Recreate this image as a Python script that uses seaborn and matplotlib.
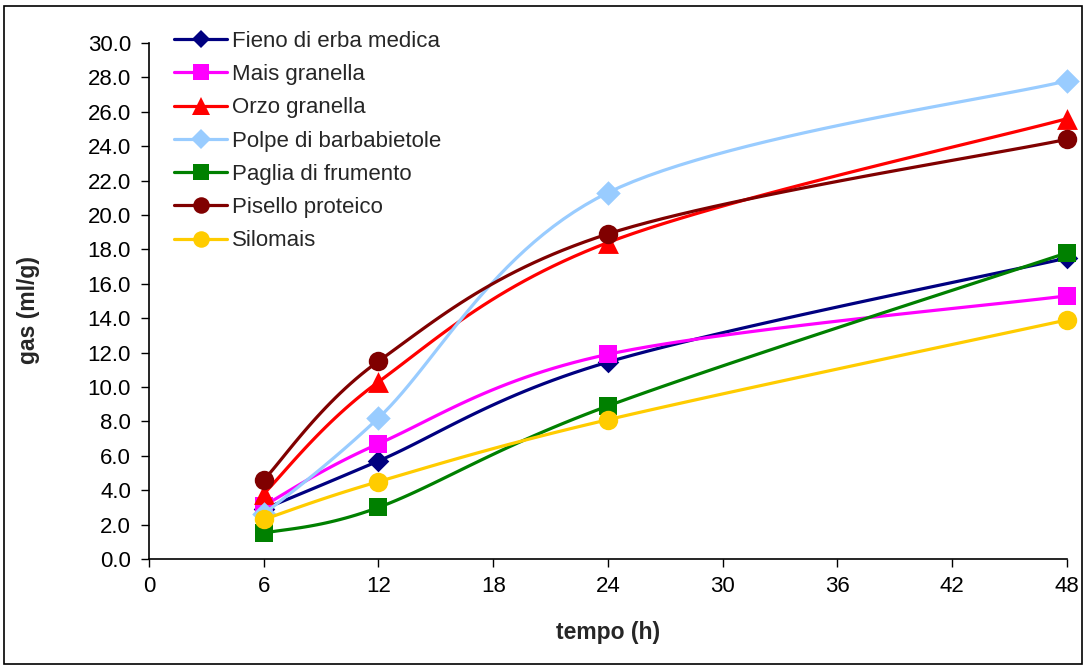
import numpy as np
import pandas as pd
import matplotlib
matplotlib.use("Agg")
import matplotlib.pyplot as plt
from matplotlib.lines import Line2D
from matplotlib.patches import Rectangle
import seaborn as sns

# ---- data ----
tempo = [6, 12, 24, 48]
series_names = ["Fieno di erba medica", "Mais granella", "Orzo granella",
                "Polpe di barbabietole", "Paglia di frumento",
                "Pisello proteico", "Silomais"]
fieno = [2.9, 5.7, 11.45, 17.5]
mais = [3.1, 6.7, 11.9, 15.3]
orzo = [3.8, 10.3, 18.4, 25.6]
polpe = [2.6, 8.2, 21.3, 27.8]
paglia = [1.5, 3.0, 8.9, 17.8]
pisello = [4.6, 11.5, 18.9, 24.4]
silomais = [2.3, 4.5, 8.1, 13.9]
values = [fieno, mais, orzo, polpe, paglia, pisello, silomais]

x_ticks = [0, 6, 12, 18, 24, 30, 36, 42, 48]
y_ticks = [0, 2, 4, 6, 8, 10, 12, 14, 16, 18, 20, 22, 24, 26, 28, 30]

colors = ["#000080", "#FF00FF", "#FF0000", "#99CCFF", "#008000", "#800000", "#FFCC00"]
markers = ["D", "s", "^", "D", "s", "o", "o"]
msizes = [11, 13, 15, 12.5, 13, 14, 14]

df = pd.DataFrame({
    "tempo": np.tile(tempo, len(series_names)),
    "gas": np.concatenate(values),
    "serie": np.repeat(series_names, len(tempo)),
})


def smooth_path(xs, ys, n=30):
    """Excel-style Bezier smoothing of a polyline (rendering only)."""
    P = np.column_stack([xs, ys]).astype(float)
    m = len(P)
    out = [P[0]]
    for i in range(m - 1):
        p0 = P[i - 1] if i > 0 else P[i]
        p1 = P[i]
        p2 = P[i + 1]
        p3 = P[i + 2] if i + 2 < m else P[i + 1]
        c1 = p1 + (p2 - p0) / 6.0
        c2 = p2 - (p3 - p1) / 6.0
        t = np.linspace(0, 1, n)[1:, None]
        seg = ((1 - t) ** 3) * p1 + 3 * ((1 - t) ** 2) * t * c1 + 3 * (1 - t) * t ** 2 * c2 + t ** 3 * p2
        out.extend(seg)
    out = np.array(out)
    return out[:, 0], out[:, 1]


sns.set_style("white")
plt.rcParams["font.family"] = ["Liberation Sans", "DejaVu Sans"]

fig = plt.figure(figsize=(10.85, 6.66), dpi=100)
ax = fig.add_axes([149 / 1085, 1 - 559 / 666, (1067 - 149) / 1085, (559 - 43) / 666])

handles = []
for k, name in enumerate(series_names):
    sub = df[df["serie"] == name]
    sx, sy = smooth_path(sub["tempo"].values, sub["gas"].values)
    ax.plot(sx, sy, color=colors[k], lw=2.3, zorder=2 + k, solid_capstyle="round")
    sns.scatterplot(data=sub, x="tempo", y="gas", ax=ax, color=colors[k],
                    marker=markers[k], s=msizes[k] ** 2, edgecolor=colors[k],
                    linewidth=0, zorder=2.5 + k, legend=False, clip_on=False)
    handles.append(Line2D([], [], color=colors[k], lw=2.3, marker=markers[k],
                          markersize=msizes[k] * 0.85, markeredgewidth=0))

ax.set_xlim(0, 48)
ax.set_ylim(0, 30)
ax.set_xticks(x_ticks)
ax.set_xticklabels([str(v) for v in x_ticks])
ax.set_yticks(y_ticks)
ax.set_yticklabels([f"{v:.1f}" for v in y_ticks])
ax.tick_params(axis="both", labelsize=16, colors="black", direction="out")
ax.tick_params(axis="y", length=6, width=1, pad=7, left=True)
ax.tick_params(axis="x", length=5.5, width=1, pad=7, bottom=True)
for s in ["top", "right"]:
    ax.spines[s].set_visible(False)
for s in ["left", "bottom"]:
    ax.spines[s].set_color("black")
    ax.spines[s].set_linewidth(1.2)
ax.grid(False)
ax.set_xlabel("")
ax.set_ylabel("")

fig.text(29 / 1085, 1 - 310 / 666, "gas (ml/g)", rotation=90, ha="center", va="center",
         fontsize=16.5, fontweight="bold")
fig.text(608 / 1085, 1 - 633 / 666, "tempo (h)", ha="center", va="center",
         fontsize=16.5, fontweight="bold")

leg = fig.legend(handles, series_names, loc="upper left",
                 bbox_to_anchor=(174 / 1085, 1 - 31 / 666), bbox_transform=fig.transFigure,
                 frameon=False, fontsize=16, handlelength=2.4, handletextpad=0.22,
                 labelspacing=0.55, borderpad=0, borderaxespad=0)

fig.add_artist(Rectangle((4 / 1085, 2 / 666), 1078 / 1085, 658 / 666, transform=fig.transFigure,
                         fill=False, edgecolor="black", linewidth=1.2))

fig.savefig("out.png", dpi=100)
